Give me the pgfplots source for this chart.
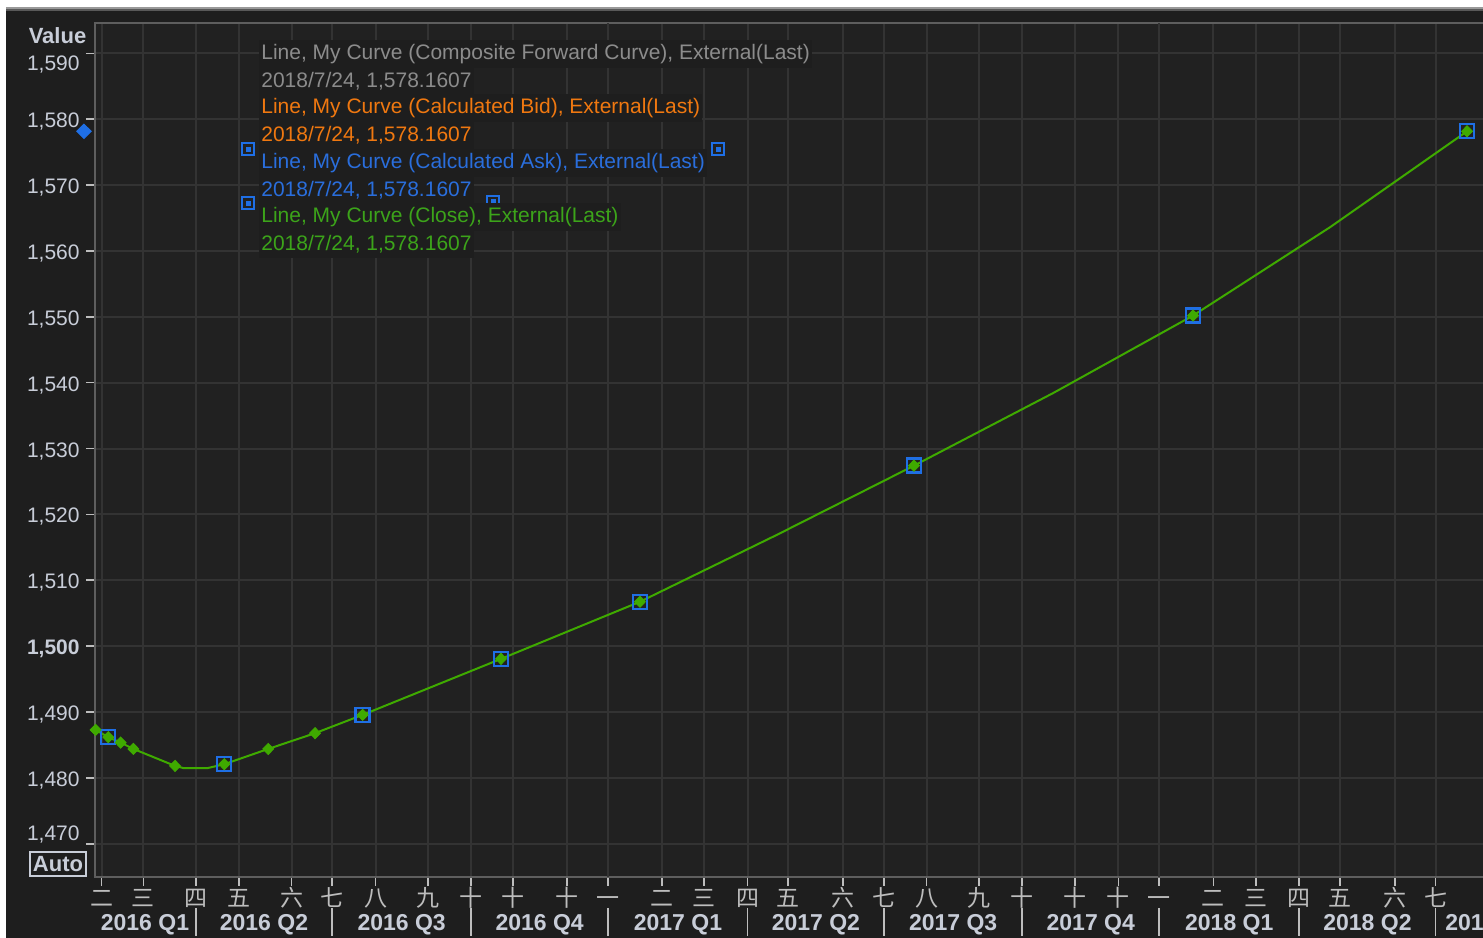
\documentclass[border=0pt]{standalone}
\usepackage{pgfplots}
\usepackage{pgfplotstable}
\pgfplotsset{compat=1.18}
\usepackage{fontspec}
\setmainfont{Liberation Sans}
\newfontfamily\cjk{Noto Sans CJK SC}
\definecolor{bgc}{HTML}{1E1E1E}
\definecolor{plotbg}{HTML}{212121}
\definecolor{gridc}{HTML}{333333}
\definecolor{axc}{HTML}{5E5E5E}
\definecolor{lblc}{HTML}{C8CDD8}
\definecolor{monc}{HTML}{BDBDBD}
\definecolor{grn}{HTML}{3FAA00}
\definecolor{blu}{HTML}{1F6FE5}
\definecolor{tgray}{HTML}{8C8C8C}
\definecolor{torange}{HTML}{F07810}
\definecolor{tblue}{HTML}{2A6EDC}
\definecolor{tgreen}{HTML}{3CA41A}
\newcommand\fsz{\fontsize{10.5bp}{12bp}\selectfont}
\newcommand\qsz{\fontsize{11.5bp}{12bp}\selectfont\bfseries}

% days since 2016-01-01
\pgfplotstableread{
day val
24.5 1487.29
32.9 1486.18
41.1 1485.36
49.5 1484.40
77.1 1481.82
83.0 1481.47
98.3 1481.47
109.7 1482.08
138.8 1484.40
169.8 1486.79
201.3 1489.57
292.9 1498.07
384.9 1506.74
475.6 1516.90
566.3 1527.40
658.7 1538.45
751.1 1550.19
841.8 1563.60
932.5 1578.16
}\linedata
\pgfplotstableread{
day val
24.5 1487.29
32.9 1486.18
41.1 1485.36
49.5 1484.40
77.1 1481.82
109.7 1482.08
138.8 1484.40
169.8 1486.79
201.3 1489.57
292.9 1498.07
384.9 1506.74
566.3 1527.40
751.1 1550.19
932.5 1578.16
}\closemarks
\pgfplotstableread{
day val
32.9 1486.18
109.7 1482.08
201.3 1489.57
292.9 1498.07
384.9 1506.74
566.3 1527.40
751.1 1550.19
932.5 1578.16
}\askmarks

\begin{document}
\begin{tikzpicture}
\begin{scope}[x=0.5bp,y=-0.5bp]
\fill[white] (0,0) rectangle (1483,938);
\fill[bgc] (6,7) rectangle (1483,938);
\fill[black!40] (6,7) rectangle (1483,9);
\fill[black!65] (6,9) rectangle (1483,11);
\end{scope}
\begin{axis}[
  at={(47.5bp,-438.35bp)}, anchor=south west,
  scale only axis, width=697.5bp, height=426.85bp,
  xmin=24.1, xmax=947.7, ymin=1465, ymax=1594.6,
  axis background/.style={fill=plotbg},
  axis line style={draw=axc, line width=1bp},
  tick align=outside, tick pos=left, major tick length=4.5bp,
  tick style={draw=monc, line width=0.8bp},
  grid=major, major grid style={draw=gridc, line width=1bp},
  ytick={1470,1480,...,1590},
  yticklabels={{\raisebox{5.75bp}[\height][\depth]{1,470}},{1,480},{1,490},{\bfseries 1,500},{1,510},{1,520},{1,530},{1,540},{1,550},{1,560},{1,570},{1,580},{\raisebox{-4.4bp}[\height][\depth]{1,590}}},
  yticklabel style={font=\fsz, text=lblc, anchor=east, inner sep=0pt, xshift=-3bp, yshift=-1.25bp},
  xtick={28.5,56.1,91.0,119.4,154.3,181.2,209.9,244.4,273.0,301.0,336.4,363.9,399.3,427.5,456.2,483.1,519.5,546.5,574.7,609.4,638.0,672.9,701.6,728.7,764.5,792.6,821.4,848.4,884.8,911.7},
  xticklabels={二,三,四,五,六,七,八,九,十,十,十,一,二,三,四,五,六,七,八,九,十,十,十,一,二,三,四,五,六,七},
  xticklabel style={font=\cjk\fontsize{11.5bp}{12bp}\selectfont, text=monc, anchor=north, inner sep=0pt, text height=10bp, text depth=1bp},
  extra x ticks={363.9,728.7}, extra x tick labels={},
  extra x tick style={grid style={draw=gridc, line width=2bp}, major tick length=0pt},
]
\addplot[grn, line width=1bp, no marks] table[x=day,y=val]{\linedata};
\addplot[only marks, mark=square, mark size=3.5bp, mark options={draw=blu, line width=1.2bp, fill=none}] table[x=day,y=val]{\askmarks};
\addplot[only marks, mark=diamond*, mark size=2.8bp, mark options={fill=grn, draw=grn, xscale=1.3}] table[x=day,y=val]{\closemarks};
\addplot[only marks, mark=square, mark size=3bp, mark options={draw=blu, line width=1bp, fill=none}] coordinates {(125.4,1575.41) (125.4,1567.20) (436.6,1575.41) (287.6,1567.50)};
\addplot[only marks, mark=square*, mark size=1bp, mark options={draw=blu, fill=blu}] coordinates {(125.4,1575.41) (125.4,1567.20) (436.6,1575.41) (287.6,1567.50)};
\end{axis}
\begin{axis}[
  at={(47.5bp,-438.35bp)}, anchor=south west,
  scale only axis, width=697.5bp, height=426.85bp,
  xmin=24.1, xmax=947.7, ymin=1465, ymax=1594.6,
  hide axis, clip=false]
\addplot[only marks, mark=diamond*, mark size=3.6bp, mark options={fill=blu, draw=blu, xscale=1.35}] coordinates {(16.8,1578.16)};
\end{axis}
\begin{scope}[x=0.5bp,y=-0.5bp]
\tikzset{tt/.style={anchor=west, inner xsep=1bp, inner ysep=0pt, minimum height=13.6bp, fill=bgc, font=\fsz}}
\node[tt, text=tgray] at (259,54) {Line, My Curve (Composite Forward Curve), External(Last)};
\node[tt, text=tgray] at (259,81) {2018/7/24, 1,578.1607};
\node[tt, text=torange] at (259,108) {Line, My Curve (Calculated Bid), External(Last)};
\node[tt, text=torange] at (259,135) {2018/7/24, 1,578.1607};
\node[tt, text=tblue] at (259,163) {Line, My Curve (Calculated Ask), External(Last)};
\node[tt, text=tblue] at (259,190) {2018/7/24, 1,578.1607};
\node[tt, text=tgreen] at (259,217) {Line, My Curve (Close), External(Last)};
\node[tt, text=tgreen] at (259,244) {2018/7/24, 1,578.1607};
\node[font=\fontsize{11bp}{12bp}\selectfont\bfseries, text=lblc] at (57.5,36) {Value};
\node[draw=lblc, line width=0.8bp, inner sep=0pt, minimum width=28bp, minimum height=12bp, font=\fontsize{11bp}{12bp}\selectfont\bfseries, text=lblc] at (58,864) {Auto};
\foreach \xx/\lab in {145/2016 Q1,264/2016 Q2,401.7/2016 Q3,539.7/2016 Q4,678/2017 Q1,815.9/2017 Q2,953.2/2017 Q3,1090.8/2017 Q4,1229.3/2018 Q1,1367.5/2018 Q2}
  \node[font=\qsz, text=lblc, inner sep=0pt] at (\xx,925) {\lab};
\node[font=\qsz, text=lblc, inner sep=0pt, anchor=west] at (1445,925) {2018 Q3};
\foreach \xx in {196,332.3,471,608.3,747.7,884,1022.3,1159.3,1299.3,1435.7}
  \draw[monc, line width=0.8bp] (\xx,908) -- (\xx,936);
\end{scope}
\pgfresetboundingbox
\path[use as bounding box] (0,0) rectangle (741.5bp,-469bp);
\end{tikzpicture}
\end{document}
